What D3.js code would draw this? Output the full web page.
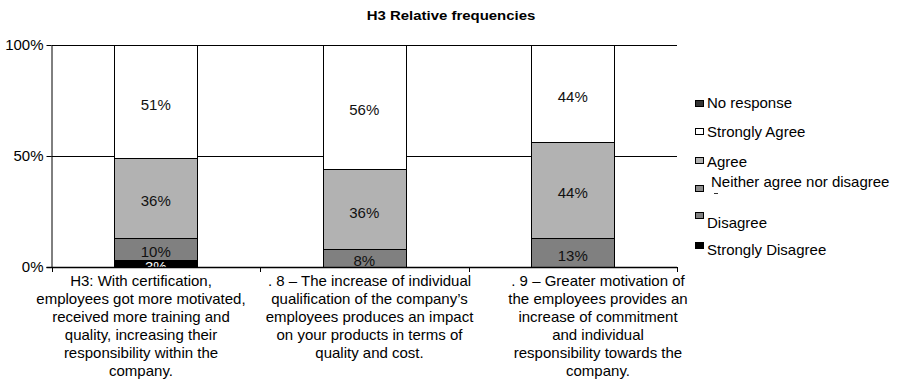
<!DOCTYPE html>
<html>
<head>
<meta charset="utf-8">
<script src="https://cdn.jsdelivr.net/npm/d3@7"></script>
<style>
  html, body { margin: 0; padding: 0; background: #fff; }
  svg { display: block; font-family: "Liberation Sans", Arial, sans-serif; }
</style>
</head>
<body>
<svg id="chart" width="897" height="379"></svg>
<script>
// Questions (category axis), each wrapped into display lines
const categories = ["H3", "Q8", "Q9"];
const categoryLines = [
  ["H3: With certification,", "employees got more motivated,", "received more training and", "quality, increasing their", "responsibility within the", "company."],
  [". 8 – The increase of individual", "qualification of the company’s", "employees produces an impact", "on your products in terms of", "quality and cost."],
  [". 9 – Greater motivation of", "the employees provides an", "increase of commitment", "and individual", "responsibility towards the", "company."]
];

// Answer series, bottom of the stack first
const seriesNames = ["Strongly Disagree", "Disagree", "Neither agree nor disagree", "Agree", "Strongly Agree", "No response"];
const stronglyDisagree = [3, 0, 0];
const disagree = [10, 8, 13];
const neither = [0, 0, 0];
const agree = [36, 36, 44];
const stronglyAgree = [51, 56, 44];
const noResponse = [0, 0, 0];
const seriesValues = [stronglyDisagree, disagree, neither, agree, stronglyAgree, noResponse];
const seriesColors = ["#000000", "#808080", "#8c8c8c", "#b2b2b2", "#ffffff", "#333333"];
const labelColors = ["#ffffff", "#111111", "#111111", "#111111", "#111111", "#ffffff"];

const yTicks = [0, 50, 100];
const yTickLabels = ["0%", "50%", "100%"];

// Legend lists the series top-down in reverse stack order
const legendOrder = ["No response", "Strongly Agree", "Agree", "Neither agree nor disagree", "Disagree", "Strongly Disagree"];

const svg = d3.select("#chart");
const plot = { left: 51.5, right: 677, top: 45, bottom: 267 };

const x = d3.scaleBand().domain(categories).range([plot.left, plot.right]).padding(0);
const y = d3.scaleLinear().domain([0, 100]).range([plot.bottom, plot.top]);
const labelX = d3.scalePoint().domain(categories).range([141, 598]);
const barW = x.bandwidth() * 0.4;

// 100% stacked: each column normalised to its own total
const rows = categories.map((c, i) => {
  const r = { cat: c };
  seriesNames.forEach((s, k) => { r[s] = seriesValues[k][i]; });
  r.total = d3.sum(seriesNames, s => r[s]);
  return r;
});
const stack = d3.stack().keys(seriesNames).value((d, key) => d[key] / d.total * 100);
const stacked = stack(rows);

// Title
svg.append("text")
  .attr("transform", "translate(451,20) scale(1.15,1)")
  .attr("text-anchor", "middle")
  .attr("font-size", 13).attr("font-weight", "bold")
  .text("H3 Relative frequencies");

// Horizontal gridlines
svg.append("g").selectAll("line")
  .data(yTicks.filter(t => t > 0))
  .join("line")
  .attr("x1", plot.left).attr("x2", plot.right)
  .attr("y1", d => Math.round(y(d)) + 0.5).attr("y2", d => Math.round(y(d)) + 0.5)
  .attr("stroke", "#000").attr("stroke-width", 1);

// Stacked bars
svg.append("clipPath").attr("id", "plotclip")
  .append("rect").attr("x", plot.left).attr("y", plot.top - 2)
  .attr("width", plot.right - plot.left).attr("height", plot.bottom - plot.top + 2);

const barG = svg.append("g");
stacked.forEach((layer, k) => {
  barG.append("g").selectAll("rect")
    .data(layer.filter(d => d[1] - d[0] > 0))
    .join("rect")
    .attr("x", d => Math.round(x(d.data.cat) + (x.bandwidth() - barW) / 2) + 0.5)
    .attr("width", Math.round(barW))
    .attr("y", d => Math.round(y(d[1])) + 0.5)
    .attr("height", d => Math.round(y(d[0])) - Math.round(y(d[1])))
    .attr("fill", seriesColors[k])
    .attr("stroke", "#000").attr("stroke-width", 1);
});

// Value labels, clipped to the plot area
const labG = svg.append("g").attr("clip-path", "url(#plotclip)");
stacked.forEach((layer, k) => {
  labG.append("g").selectAll("text")
    .data(layer.filter(d => d[1] - d[0] > 0))
    .join("text")
    .attr("x", d => x(d.data.cat) + x.bandwidth() / 2)
    .attr("y", d => (y(d[0]) + y(d[1])) / 2 + 3)
    .attr("dy", "0.35em")
    .attr("text-anchor", "middle")
    .attr("font-size", 15)
    .attr("fill", labelColors[k])
    .text(d => d.data[layer.key] + "%");
});

// Y axis
const yAxis = d3.axisLeft(y).tickValues(yTicks).tickFormat((d, i) => yTickLabels[i]).tickSizeInner(5).tickSizeOuter(0).tickPadding(3);
const yg = svg.append("g").attr("transform", `translate(${plot.left},0)`).call(yAxis);
yg.select(".domain").attr("stroke", "#000");
yg.selectAll(".tick line").attr("stroke", "#000");
yg.selectAll(".tick text").attr("font-size", 15).attr("font-family", "Liberation Sans, Arial, sans-serif").attr("fill", "#000");

// X axis: baseline with tick marks at category boundaries
const xg = svg.append("g");
xg.append("line")
  .attr("x1", plot.left - 5).attr("x2", plot.right)
  .attr("y1", plot.bottom + 0.5).attr("y2", plot.bottom + 0.5)
  .attr("stroke", "#000").attr("stroke-width", 1.3);
const bounds = categories.map(c => x(c)).concat([x(categories[categories.length - 1]) + x.bandwidth()]);
xg.selectAll("line.tk").data(bounds).join("line").attr("class", "tk")
  .attr("x1", d => Math.round(d) + 0.5).attr("x2", d => Math.round(d) + 0.5)
  .attr("y1", plot.bottom).attr("y2", plot.bottom + 5)
  .attr("stroke", "#000");

// Category labels
categories.forEach((c, i) => {
  const t = svg.append("text")
    .attr("text-anchor", "middle")
    .attr("font-size", 15)
    .attr("fill", "#000");
  categoryLines[i].forEach((ln, j) => {
    t.append("tspan").attr("x", labelX(c)).attr("y", 286 + j * 18).text(ln);
  });
});

// Legend
const legendRow = d3.scalePoint().domain(legendOrder).range([103, 249]);
const swatchShift = [-0.5, -1.7, -1.9, -2.6, -4.8, -4.5];
const textShift = [0, 0, 0, -8.6, 3.2, 1];
const textIndent = [0, 0, 0, 4, 0, 0];
const lg = svg.append("g");
legendOrder.forEach((name, i) => {
  const k = seriesNames.indexOf(name);
  const cy = legendRow(name);
  lg.append("rect")
    .attr("x", 695.5).attr("y", Math.round(cy + swatchShift[i] - 3) + 0.5)
    .attr("width", 8).attr("height", 6)
    .attr("fill", seriesColors[k]).attr("stroke", "#000").attr("stroke-width", 1);
  lg.append("text")
    .attr("x", 707 + textIndent[i]).attr("y", cy + textShift[i])
    .attr("dy", "0.35em")
    .attr("font-size", 15)
    .text(name);
  if (name === "Neither agree nor disagree") {
    lg.append("line")
      .attr("x1", 714).attr("x2", 718)
      .attr("y1", Math.round(cy + 2) + 0.5).attr("y2", Math.round(cy + 2) + 0.5)
      .attr("stroke", "#333").attr("stroke-width", 1);
  }
});
</script>
</body>
</html>
